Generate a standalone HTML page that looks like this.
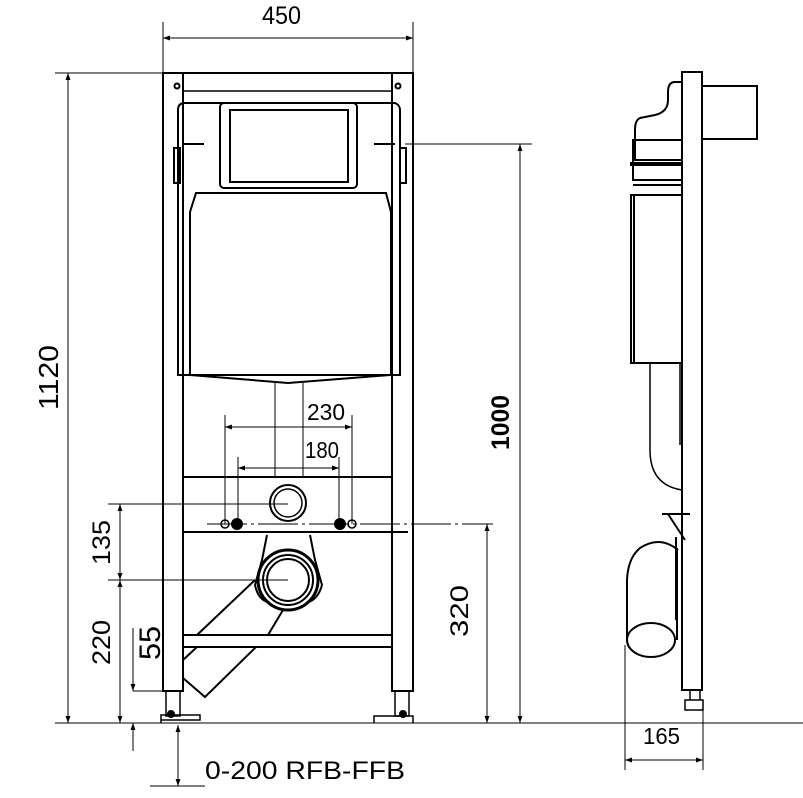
<!DOCTYPE html>
<html><head><meta charset="utf-8"><style>html,body{margin:0;padding:0;background:#fff}svg{display:block}</style></head>
<body>
<svg width="803" height="798" viewBox="0 0 803 798" xmlns="http://www.w3.org/2000/svg" font-family="'Liberation Sans', sans-serif">
<defs>
<marker id="a" viewBox="0 0 10 10" refX="10" refY="5" markerWidth="16" markerHeight="7" orient="auto-start-reverse" markerUnits="userSpaceOnUse"><path d="M0,1.5 L10,5 L0,8.5 z" fill="#000"/></marker>
</defs>
<g stroke="#000" fill="none" stroke-width="1">
<line x1="163" y1="22" x2="163" y2="75"/><line x1="413" y1="22" x2="413" y2="75"/>
<line x1="163" y1="38" x2="413" y2="38" marker-start="url(#a)" marker-end="url(#a)"/>
<line x1="55" y1="73" x2="163" y2="73"/>
<line x1="68" y1="73" x2="68" y2="723" marker-start="url(#a)" marker-end="url(#a)"/>
<line x1="55" y1="723" x2="803" y2="723"/>
<line x1="108" y1="504" x2="288" y2="504"/>
<line x1="108" y1="580" x2="288" y2="580"/>
<line x1="120" y1="504" x2="120" y2="580" marker-start="url(#a)" marker-end="url(#a)"/>
<line x1="120" y1="580" x2="120" y2="723" marker-start="url(#a)" marker-end="url(#a)"/>
<line x1="133" y1="628" x2="133" y2="691" marker-end="url(#a)"/>
<line x1="133" y1="691" x2="165" y2="691"/>
<line x1="133" y1="751" x2="133" y2="723" marker-end="url(#a)"/>
<line x1="178" y1="725" x2="178" y2="786" marker-start="url(#a)" marker-end="url(#a)"/>
<line x1="150" y1="786" x2="205" y2="786"/>
<line x1="405" y1="144" x2="532" y2="144"/>
<line x1="520" y1="144" x2="520" y2="723" marker-start="url(#a)" marker-end="url(#a)"/>
<line x1="207" y1="524" x2="493" y2="524" stroke-dasharray="40,4,3,4"/>
<line x1="487" y1="524" x2="487" y2="723" marker-start="url(#a)" marker-end="url(#a)"/>
<line x1="225" y1="415" x2="225" y2="524"/><line x1="352" y1="415" x2="352" y2="524"/>
<line x1="238" y1="457" x2="238" y2="524"/><line x1="339" y1="457" x2="339" y2="524"/>
<line x1="225" y1="427" x2="352" y2="427" marker-start="url(#a)" marker-end="url(#a)"/>
<line x1="238" y1="468" x2="339" y2="468" marker-start="url(#a)" marker-end="url(#a)"/>
<line x1="275" y1="383" x2="275" y2="477"/><line x1="303" y1="383" x2="303" y2="477"/>
</g>
<g stroke="#000" fill="none" stroke-width="2">
<line x1="163" y1="73" x2="413" y2="73"/>
<line x1="183" y1="91" x2="392" y2="91" stroke-width="1.5"/>
<rect x="163" y="73" width="20" height="618"/>
<rect x="392" y="73" width="21" height="618"/>
<circle cx="177" cy="86" r="2.5"/><circle cx="398" cy="86" r="2.5"/>
<rect x="166" y="691" width="14" height="25" stroke-width="1.5"/>
<rect x="395" y="691" width="14" height="25" stroke-width="1.5"/>
<path d="M161,723 V715 H200 V720 H161" stroke-width="1.5"/><circle cx="171" cy="714" r="3" fill="#000"/>
<path d="M374,723 V716 H413 V723" stroke-width="1.5"/><circle cx="403" cy="714" r="3" fill="#000"/>
<path d="M178,110 Q178,103 185,103 H395 Q400,105 400,110 V375 H178 Z" stroke-width="2"/>
<rect x="220" y="103" width="137" height="85" rx="4"/>
<rect x="230" y="110" width="118" height="72"/>
<path d="M190,375 V212 L196,193 H386 L391,212 V375"/>
<path d="M190,375 L288,383 L390,375"/>
<line x1="183" y1="144" x2="204" y2="144"/><line x1="374" y1="144" x2="395" y2="144"/>
<rect x="174" y="148" width="6" height="35"/><rect x="400" y="148" width="6" height="35"/>
<line x1="183" y1="477" x2="392" y2="477"/>
<line x1="183" y1="532" x2="408" y2="532"/>
<line x1="183" y1="635" x2="392" y2="635"/>
<line x1="183" y1="647" x2="392" y2="647"/>
<circle cx="288" cy="503" r="18"/><circle cx="288" cy="503" r="14" stroke-width="1.5"/>
<circle cx="225" cy="524" r="4" stroke-width="1.5"/><circle cx="237" cy="524" r="5" fill="#000"/>
<circle cx="340" cy="524" r="5" fill="#000"/><circle cx="352" cy="524" r="4" stroke-width="1.5"/>
<path d="M267,535 L262,560 L255,585 Q258,600 270,603 M310,535 L315,560 L322,585 Q318,600 306,603"/>
<circle cx="288" cy="580" r="30" stroke-width="3"/>
<circle cx="288" cy="580" r="25"/><circle cx="288" cy="580" r="21"/>
<path d="M255,580 L197,635 M283,610 L268,635 M197,647 L183,660 M256,647 L205,697 L183,678"/>
</g>
<g stroke="#000" fill="none" stroke-width="2">
<rect x="682" y="72" width="20" height="618"/>
<rect x="702" y="86" width="55" height="53"/>
<path d="M682,82 H675 Q668,82 668,92 V100 Q668,112 655,115 L640,118 Q635,120 635,130 V160 H682"/>
<rect x="633" y="140" width="49" height="40"/>
<path d="M633,160 H682 M633,185 H682"/>
<rect x="631" y="163" width="51" height="2"/>
<rect x="631" y="195" width="51" height="168"/>
<line x1="634" y1="195" x2="634" y2="363"/>
<path d="M650,363 V450 Q650,485 682,490 M680,363 V445" stroke-width="1.5"/>
<path d="M662,514 H690 M668,514 L685,540 M682,537 V625 M676,537 V620"/>
<path d="M678,550 Q660,535 640,548 Q628,558 627,580 V640 M677,548 V640"/>
<ellipse cx="651" cy="640" rx="24" ry="17"/>
<path d="M690,690 V700 M700,690 V700 M685,700 H703 V710 H685 Z" stroke-width="1.5"/>
</g>
<g stroke="#000" fill="none" stroke-width="1">
<line x1="625" y1="645" x2="625" y2="770"/><line x1="703" y1="705" x2="703" y2="770"/>
<line x1="625" y1="760" x2="703" y2="760" marker-start="url(#a)" marker-end="url(#a)"/>
</g>
<g font-size="25" fill="#000">
<text x="262" y="24" textLength="39" lengthAdjust="spacingAndGlyphs">450</text>
<text x="307" y="420" textLength="38" lengthAdjust="spacingAndGlyphs" font-size="23">230</text>
<text x="305" y="458" textLength="34" lengthAdjust="spacingAndGlyphs" font-size="23">180</text>
<text x="643" y="744" textLength="37" lengthAdjust="spacingAndGlyphs" font-size="23">165</text>
<text transform="translate(58,410) rotate(-90)" textLength="65" lengthAdjust="spacingAndGlyphs" font-size="28">1120</text>
<text transform="translate(110,565) rotate(-90)" textLength="45" lengthAdjust="spacingAndGlyphs">135</text>
<text transform="translate(110,665) rotate(-90)" textLength="45" lengthAdjust="spacingAndGlyphs">220</text>
<text transform="translate(160,660) rotate(-90)" textLength="34" lengthAdjust="spacingAndGlyphs" font-size="30">55</text>
<text transform="translate(468,637) rotate(-90)" textLength="52" lengthAdjust="spacingAndGlyphs">320</text>
<text transform="translate(509,450) rotate(-90)" textLength="55" lengthAdjust="spacingAndGlyphs" font-weight="bold" font-size="25">1000</text>
<text x="205" y="779" font-size="25" textLength="200" lengthAdjust="spacingAndGlyphs">0-200 RFB-FFB</text>
</g>
</svg>
</body></html>
